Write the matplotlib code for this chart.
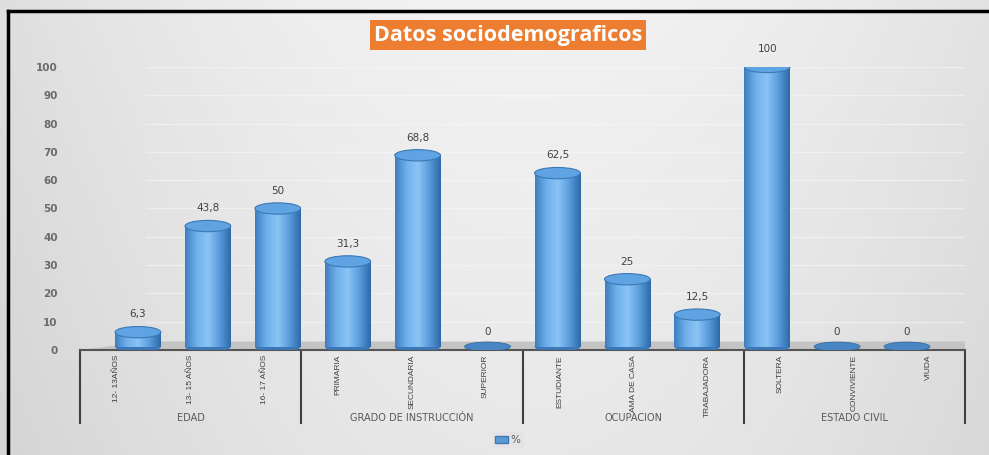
import numpy as np
import matplotlib
matplotlib.use("Agg")
import matplotlib.pyplot as plt
from matplotlib.patches import Rectangle, Ellipse, Polygon, Patch

# ---- data ----
categories = ["12- 13AÑOS", "13- 15 AÑOS", "16- 17 AÑOS",
              "PRIMARIA", "SECUNDARIA", "SUPERIOR",
              "ESTUDIANTE", "AMA DE CASA", "TRABAJADORA",
              "SOLTERA", "CONVIVIENTE", "VIUDA"]
values = [6.3, 43.8, 50, 31.3, 68.8, 0, 62.5, 25, 12.5, 100, 0, 0]
value_labels = ["6,3", "43,8", "50", "31,3", "68,8", "0", "62,5", "25", "12,5", "100", "0", "0"]
groups = ["EDAD", "GRADO DE INSTRUCCIÓN", "OCUPACION", "ESTADO CIVIL"]
group_sizes = [3, 3, 3, 3]
yticks = [0, 10, 20, 30, 40, 50, 60, 70, 80, 90, 100]
title = "Datos sociodemograficos"
legend_label = "%"

W, H = 989, 455
fig = plt.figure(figsize=(W / 100, H / 100), dpi=100)

# background gradient
bg = fig.add_axes([0, 0, 1, 1])
bg.set_axis_off()
gx = np.linspace(0, 1, 300)
gy = np.linspace(0, 1, 150)
GX, GY = np.meshgrid(gx, gy)
shade = 0.80 + 0.11 * np.sin(np.pi * np.clip(GX * 0.75 + 0.1, 0, 1)) + 0.04 * GY
bg.imshow(np.dstack([shade, shade, shade]), extent=[0, 1, 0, 1], aspect="auto",
          origin="lower", vmin=0, vmax=1)
bg.set_xlim(0, 1)
bg.set_ylim(0, 1)
# black frame (top and left)
bg.plot([8 / W, 1], [1 - 11 / H, 1 - 11 / H], color="black", lw=2.5)
bg.plot([8 / W, 8 / W], [0, 1 - 11 / H], color="black", lw=2.5)

# main axes
left, right = 80 / W, 965 / W
bottom, top = (H - 350) / H, (H - 67) / H
ax = fig.add_axes([left, bottom, right - left, top - bottom])
ax.set_facecolor("none")
n = len(categories)
ax.set_xlim(0, n)
ax.set_ylim(0, 100)
for s in ax.spines.values():
    s.set_visible(False)
ax.set_xticks([])
ax.set_yticks(yticks)
ax.set_yticklabels([str(t) for t in yticks], color="#6a6a6a", fontsize=7.5,
                   fontweight="bold")
ax.tick_params(axis="y", length=0, pad=16)

# faint back-wall gridlines
for t in yticks[1:]:
    ax.plot([0.9, n + 0.1], [t, t], color="white", lw=1.0, alpha=0.4, zorder=1)

# floor
floor = Polygon([(0, 0), (n, 0), (n + 0.2, 3.0), (0.9, 3.0)], closed=True,
                facecolor="#c4c4c4", edgecolor="none", zorder=2)
ax.add_patch(floor)
ax.plot([0, n], [0, 0], color="#555555", lw=1.5, zorder=3, clip_on=False)

# bars as cylinders
bw = 0.62
eh = 4.0
x0, step = 0.786, 0.948
grad = np.linspace(0, 1, 64)
cmap = matplotlib.colors.LinearSegmentedColormap.from_list(
    "cyl", ["#3f7fc0", "#6fb0ec", "#8cc4f5", "#5a9cdc", "#2e6aa8"])
for i, (v, lab) in enumerate(zip(values, value_labels)):
    cx = x0 + i * step
    base = 1.2
    if v > 0:
        topv = v
        ax.add_patch(Ellipse((cx, base), bw, eh, facecolor="#3a78b8",
                             edgecolor="none", zorder=4))
        rect = Rectangle((cx - bw / 2, base), bw, topv - base,
                         facecolor="none", edgecolor="none", zorder=4)
        ax.add_patch(rect)
        im = ax.imshow(grad[None, :], cmap=cmap, aspect="auto",
                       extent=[cx - bw / 2, cx + bw / 2, base, topv], zorder=4)
        im.set_clip_path(rect)
        ax.add_patch(Ellipse((cx, topv), bw, eh, facecolor="#5fa3e3",
                             edgecolor="#3b78b5", lw=0.8, zorder=5))
        ty = topv + 4.5
    else:
        ax.add_patch(Ellipse((cx, base), bw, eh * 0.8, facecolor="#4a86c4",
                             edgecolor="#2f6aa5", lw=0.6, zorder=5))
        ty = base + 3.5
    ax.text(cx, ty, lab, ha="center", va="bottom", fontsize=7.5,
            color="#404040", zorder=6)

ax.set_aspect("auto")
ax.set_xlim(0, n)
ax.set_ylim(0, 100)

# category labels
trans = ax.get_xaxis_transform()
axh_px = 350 - 67
for i, c in enumerate(categories):
    ax.text(i + 0.5, -5 / axh_px, c, rotation=90, ha="center", va="top",
            fontsize=6.0, color="#404040", transform=trans,
            family=["Liberation Sans Narrow", "Liberation Sans", "DejaVu Sans"],
            clip_on=False)

# group dividers and labels
edges = np.concatenate([[0], np.cumsum(group_sizes)])
for e in edges:
    ax.plot([e, e], [0, -73 / axh_px], color="#404040", lw=1.5,
            transform=trans, clip_on=False)
for g, a, b in zip(groups, edges[:-1], edges[1:]):
    ax.text((a + b) / 2, -68 / axh_px, g, ha="center", va="center",
            fontsize=7, color="#595959", transform=trans, clip_on=False)

# title
fig.text(508 / W, 1 - 35 / H, title, ha="center", va="center",
         fontsize=15.5, fontweight="bold", color="white", family="Open Sans",
         bbox=dict(boxstyle="square,pad=0.2", facecolor="#ED7D31",
                   edgecolor="none"))

# legend
fig.legend(handles=[Patch(facecolor="#5b9bd5", edgecolor="#3b78b5",
                          label=legend_label)],
           loc="center", bbox_to_anchor=(508 / W, 15 / H), frameon=True,
           facecolor="#e4e4e4", edgecolor="none", fontsize=7.5,
           handlelength=1.2, handleheight=0.7, handletextpad=0.3,
           borderpad=0.3, labelcolor="#595959")

fig.savefig("out.png", dpi=100)
